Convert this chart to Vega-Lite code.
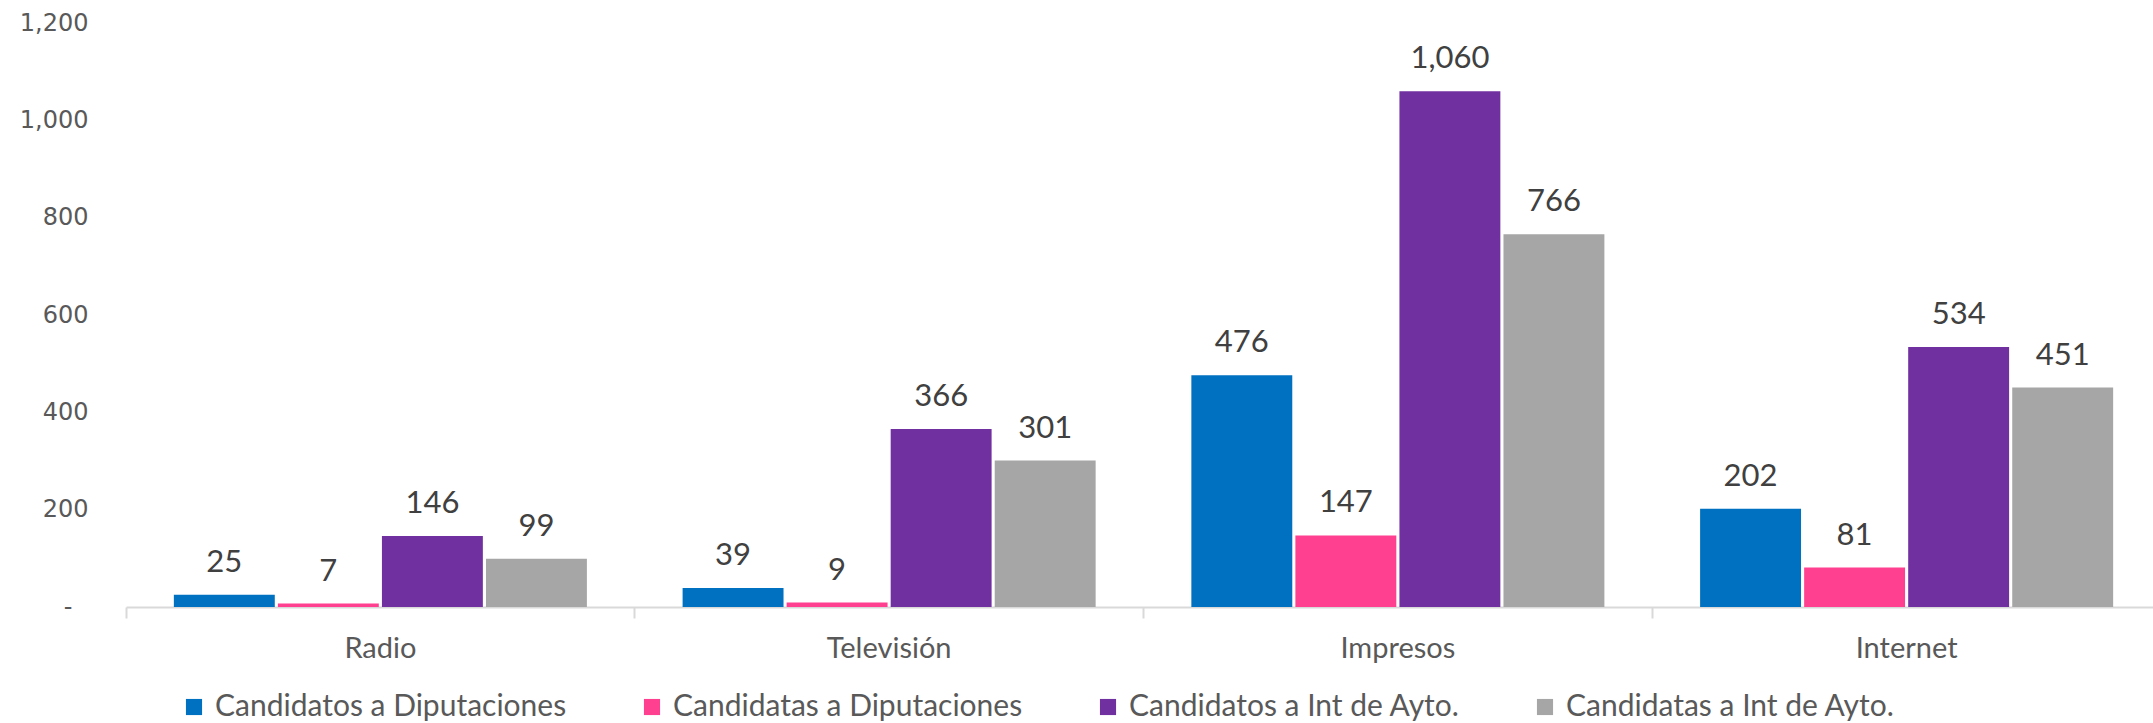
{
  "$schema": "https://vega.github.io/schema/vega-lite/v6.json",
  "width": 2035,
  "height": 584,
  "autosize": {"type": "none"},
  "padding": {"left": 126, "top": 23, "right": 0, "bottom": 116},
  "background": "white",
  "config": {"view": {"stroke": null}},
  "data": {
    "values": [
      {"medio": "Radio", "serie": "Candidatos a Diputaciones", "valor": 25},
      {"medio": "Radio", "serie": "Candidatas a Diputaciones", "valor": 7},
      {"medio": "Radio", "serie": "Candidatos a Int de Ayto.", "valor": 146},
      {"medio": "Radio", "serie": "Candidatas a Int de Ayto.", "valor": 99},
      {"medio": "Televisión", "serie": "Candidatos a Diputaciones", "valor": 39},
      {"medio": "Televisión", "serie": "Candidatas a Diputaciones", "valor": 9},
      {"medio": "Televisión", "serie": "Candidatos a Int de Ayto.", "valor": 366},
      {"medio": "Televisión", "serie": "Candidatas a Int de Ayto.", "valor": 301},
      {"medio": "Impresos", "serie": "Candidatos a Diputaciones", "valor": 476},
      {"medio": "Impresos", "serie": "Candidatas a Diputaciones", "valor": 147},
      {"medio": "Impresos", "serie": "Candidatos a Int de Ayto.", "valor": 1060},
      {"medio": "Impresos", "serie": "Candidatas a Int de Ayto.", "valor": 766},
      {"medio": "Internet", "serie": "Candidatos a Diputaciones", "valor": 202},
      {"medio": "Internet", "serie": "Candidatas a Diputaciones", "valor": 81},
      {"medio": "Internet", "serie": "Candidatos a Int de Ayto.", "valor": 534},
      {"medio": "Internet", "serie": "Candidatas a Int de Ayto.", "valor": 451}
    ]
  },
  "encoding": {
    "x": {
      "field": "medio",
      "type": "nominal",
      "sort": ["Radio", "Televisión", "Impresos", "Internet"],
      "scale": {"paddingInner": 0, "paddingOuter": 0},
      "axis": {
        "title": null,
        "labelAngle": 0,
        "labelFont": "Lato",
        "labelFontSize": 29,
        "labelColor": "#595959",
        "labelPadding": 16,
        "domainColor": "#D9D9D9",
        "domainWidth": 2,
        "tickColor": "#D9D9D9",
        "tickWidth": 2,
        "tickSize": 11,
        "bandPosition": 0
      }
    },
    "xOffset": {
      "field": "serie",
      "type": "nominal",
      "sort": ["Candidatos a Diputaciones", "Candidatas a Diputaciones", "Candidatos a Int de Ayto.", "Candidatas a Int de Ayto."],
      "scale": {"paddingInner": 0.03, "paddingOuter": 0.46}
    },
    "y": {
      "field": "valor",
      "type": "quantitative",
      "scale": {"domain": [0, 1200]},
      "axis": {
        "title": null,
        "values": [0, 200, 400, 600, 800, 1000, 1200],
        "labelExpr": "datum.value == 0 ? '-' : format(datum.value, ',')",
        "labelFont": "DejaVu Sans",
        "labelFontSize": 24,
        "labelColor": "#595959",
        "labelPadding": {"condition": {"test": "datum.value == 0", "value": 54}, "value": 38},
        "domain": false,
        "ticks": false,
        "grid": false
      }
    }
  },
  "layer": [
    {
      "mark": {"type": "bar"},
      "encoding": {
        "color": {
          "field": "serie",
          "type": "nominal",
          "scale": {
            "domain": ["Candidatos a Diputaciones", "Candidatas a Diputaciones", "Candidatos a Int de Ayto.", "Candidatas a Int de Ayto."],
            "range": ["#0070C0", "#FF4091", "#7030A0", "#A6A6A6"]
          },
          "legend": {
            "title": null,
            "orient": "none",
            "direction": "horizontal",
            "legendX": 53,
            "legendY": 669,
            "symbolType": "square",
            "symbolSize": 260,
            "symbolStrokeWidth": 0,
            "labelFont": "Lato",
            "labelFontSize": 30,
            "labelColor": "#595959",
            "labelOffset": 6,
            "labelLimit": 500,
            "columnPadding": 70
          }
        }
      }
    },
    {
      "mark": {"type": "text", "font": "Lato", "fontSize": 31, "color": "#404040", "baseline": "middle", "dy": -32},
      "encoding": {
        "text": {"field": "valor", "type": "quantitative", "format": ","}
      }
    }
  ]
}
